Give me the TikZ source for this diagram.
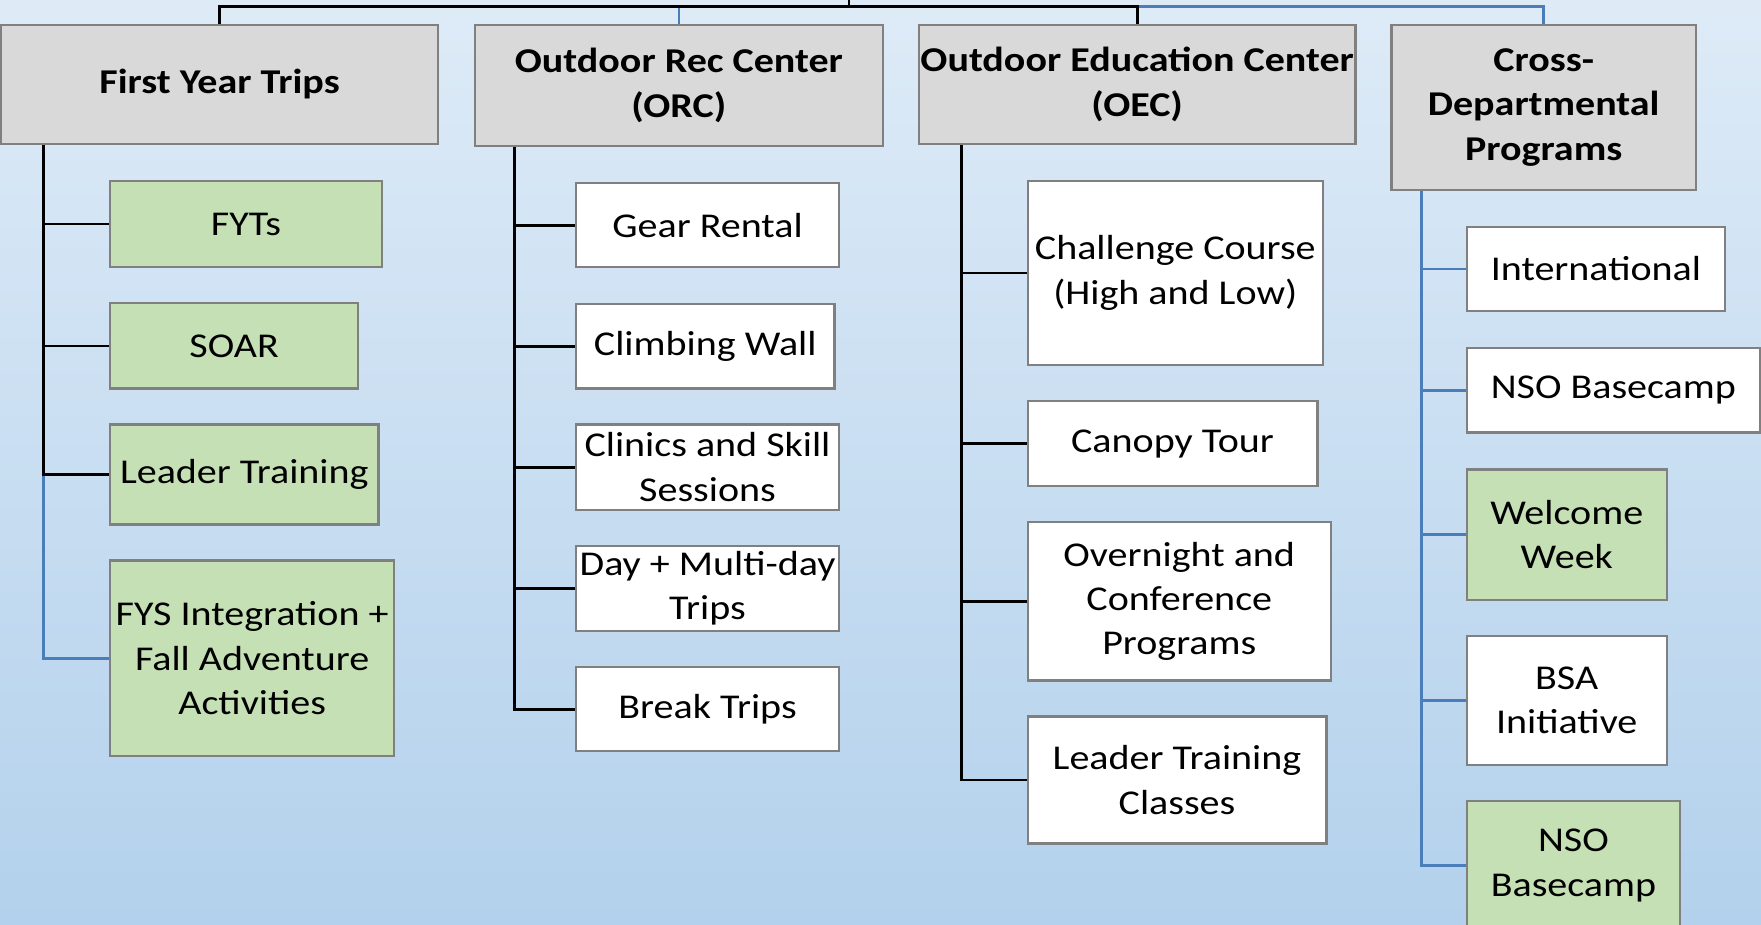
\documentclass[tikz,border=0pt]{standalone}
\usepackage{fontspec}
\setmainfont{Carlito}[FakeStretch=1.15]
\definecolor{bgtop}{HTML}{DEEBF7}
\definecolor{bgbot}{HTML}{B3D1EC}
\definecolor{headgray}{HTML}{D9D9D9}
\definecolor{boxgray}{HTML}{808080}
\definecolor{greenfill}{HTML}{C5E0B4}
\definecolor{blueline}{HTML}{4A7EBB}
\newcommand\placebox[7]{\node[#6, minimum width={#4-#2}, minimum height={#5-#3}] (#1) at ({(#2+#4)/2},{(#3+#5)/2}) {#7};}
\begin{document}
\begin{tikzpicture}[x=1pt,y=-1pt,
  box/.style={draw=boxgray, line width=2pt, inner sep=0pt, align=center, font=\fontsize{31}{39.5}\selectfont},
  headbox/.style={box, fill=headgray, font=\fontsize{31}{39.5}\selectfont\bfseries},
  greenbox/.style={box, fill=greenfill},
  whitebox/.style={box, fill=white},
  blk/.style={line width=2.5pt, black},
  blu/.style={line width=2.5pt, blueline}]
\shade[top color=bgtop, bottom color=bgbot] (0,0) rectangle (1568,823);
\useasboundingbox (0,0) rectangle (1568,823);
% headers
\placebox{fyt}{1}{22}{390}{128}{headbox}{First Year Trips}
\placebox{orc}{423}{22}{786}{130}{headbox}{Outdoor Rec Center\\(ORC)}
\placebox{oec}{818}{22}{1207}{128}{headbox}{Outdoor Education Center\\(OEC)}
\placebox{cdp}{1239}{22}{1510}{169}{headbox}{Cross-\\Departmental\\Programs}
% first year trips
\placebox{fyts}{98}{161}{340}{238}{greenbox}{FYTs}
\placebox{soar}{98}{270}{319}{346}{greenbox}{SOAR}
\placebox{ldr}{98}{378}{337}{467}{greenbox}{Leader Training}
\placebox{fys}{98}{499}{351}{673}{greenbox}{FYS Integration +\\Fall Adventure\\Activities}
% ORC
\placebox{gear}{513}{163}{747}{238}{whitebox}{Gear Rental}
\placebox{climb}{513}{271}{743}{346}{whitebox}{Climbing Wall}
\placebox{clin}{513}{378}{747}{454}{whitebox}{Clinics and Skill\\Sessions}
\placebox{day}{513}{486}{747}{562}{whitebox}{Day + Multi-day\\Trips}
\placebox{brk}{513}{594}{747}{669}{whitebox}{Break Trips}
% OEC
\placebox{chal}{915}{161}{1178}{325}{whitebox}{Challenge Course\\(High and Low)}
\placebox{cano}{915}{357}{1173}{433}{whitebox}{Canopy Tour}
\placebox{over}{915}{465}{1185}{606}{whitebox}{Overnight and\\Conference\\Programs}
\placebox{ltc}{915}{638}{1181}{751}{whitebox}{Leader Training\\Classes}
% Cross-departmental
\placebox{intl}{1306}{202}{1536}{277}{whitebox}{International}
\placebox{nsoa}{1306}{310}{1567}{385}{whitebox}{NSO Basecamp}
\placebox{ww}{1306}{418}{1484}{534}{greenbox}{Welcome\\Week}
\placebox{bsa}{1306}{566}{1484}{681}{whitebox}{BSA\\Initiative}
\placebox{nsob}{1306}{713}{1496}{828}{greenbox}{NSO\\Basecamp}
% spine coordinates
\coordinate (s1) at ([xshift=39pt]fyt.south west);
\coordinate (s2) at ([xshift=36pt]orc.south west);
\coordinate (s3) at ([xshift=39pt]oec.south west);
\coordinate (s4) at ([xshift=28pt]cdp.south west);
\coordinate (root) at (756,0);
% top bus
\draw[blu] ([yshift=15pt]oec.north) -| (cdp.north);
\draw[blu] ([yshift=15pt]orc.north) -- (orc.north);
\draw[blk] (fyt.north) -- ([yshift=15pt]fyt.north) -| (oec.north);
\draw[blk] (root) -- ++(0,7);
% first year trips
\draw[blu] (s1 |- ldr.west) |- (fys.west);
\draw[blk] (s1) |- (ldr.west);
\draw[blk] (s1 |- fyts.west) -- (fyts.west);
\draw[blk] (s1 |- soar.west) -- (soar.west);
% ORC
\draw[blk] (s2) |- (brk.west);
\foreach \n in {gear,climb,clin,day} \draw[blk] (s2 |- \n.west) -- (\n.west);
% OEC
\draw[blk] (s3) |- (ltc.west);
\foreach \n in {chal,cano,over} \draw[blk] (s3 |- \n.west) -- (\n.west);
% Cross
\draw[blu] (s4) |- (nsob.west);
\foreach \n in {intl,nsoa,ww,bsa} \draw[blu] (s4 |- \n.west) -- (\n.west);
\end{tikzpicture}
\end{document}
